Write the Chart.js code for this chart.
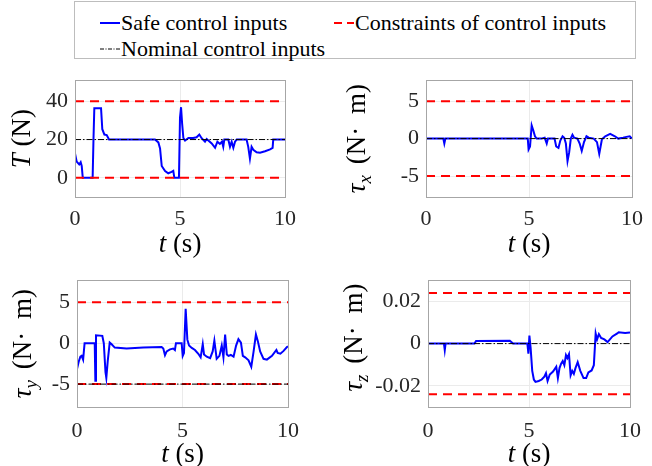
<!DOCTYPE html>
<html>
<head>
<meta charset="utf-8">
<script src="https://cdn.jsdelivr.net/npm/chart.js@4.4.1/dist/chart.umd.min.js"></script>
<style>
  body { margin: 0; width: 652px; height: 466px; background: #fff; position: relative; overflow: hidden; font-family: "Liberation Serif", serif; }
  canvas { position: absolute; }
  #legend { position: absolute; left: 74px; top: 1px; width: 562px; height: 58px; border: 1px solid #bdbdbd; box-sizing: border-box; background: #fff; }
  .sample { position: absolute; }
  .label { position: absolute; font-size: 22px; line-height: 22px; color: #000; white-space: nowrap; }
</style>
</head>
<body>
<div id="legend">
  <svg class="sample" style="left:25px;top:19px" width="20" height="4"><line x1="0" y1="2" x2="20" y2="2" stroke="#0000ff" stroke-width="2"/></svg>
  <div class="label" style="left:46px;top:10px">Safe control inputs</div>
  <svg class="sample" style="left:259px;top:19px" width="20" height="4"><line x1="0" y1="2" x2="20" y2="2" stroke="#ff0000" stroke-width="2" stroke-dasharray="8 5"/></svg>
  <div class="label" style="left:280px;top:10px">Constraints of control inputs</div>
  <svg class="sample" style="left:25px;top:45px" width="20" height="4"><line x1="0" y1="2" x2="20" y2="2" stroke="#000" stroke-width="1" stroke-dasharray="4 1.5 1 1.5"/></svg>
  <div class="label" style="left:46px;top:36px">Nominal control inputs</div>
</div>
<canvas id="cT" width="326" height="200" style="left:0;top:60px"></canvas>
<canvas id="cX" width="326" height="200" style="left:326px;top:60px"></canvas>
<canvas id="cY" width="326" height="206" style="left:0;top:260px"></canvas>
<canvas id="cZ" width="326" height="206" style="left:326px;top:260px"></canvas>
<script>
// time span shared by all panels
const tSpan = [0, 10];
const tTicks = [0, 5, 10];

// thrust T (N)
const tT = [0, 0.08, 0.2, 0.27, 0.32, 0.37, 0.84, 0.88, 0.92, 1.24, 1.30, 1.40, 1.51, 1.62, 3.81, 3.97, 4.05, 4.13, 4.29, 4.44,
  4.60, 4.68, 4.73, 4.95, 5.0, 5.05, 5.10, 5.16, 5.24, 5.40, 5.63, 5.79, 5.92, 6.03, 6.19, 6.27, 6.35, 6.51, 6.67, 6.78,
  6.90, 7.0, 7.06, 7.11, 7.30, 7.38, 7.46, 7.54, 7.62, 7.70, 8.17, 8.25, 8.33, 8.41, 8.49, 8.65, 8.81, 9.05, 9.29, 9.41,
  9.44, 10];
const safeT = [12.8, 8.5, 7.0, 8.2, 6.2, 0, 0, 20, 36.4, 36.4, 25.4, 22.6, 22.3, 20, 20, 18.5, 15.4, 6.2, 3.6, 2.4,
  3.1, 3.6, 0, 0, 31.5, 36.9, 28.5, 20.8, 19.5, 20.8, 20.8, 21.2, 22.6, 20.7, 18.9, 20.3, 19.5, 18.0, 15.7, 18.9,
  17.7, 18.9, 16.2, 20, 20, 16.2, 18.9, 15.7, 18.9, 20, 20, 16.2, 10.0, 16.2, 14.7, 13.4, 13.1, 13.9, 14.9, 15.7,
  20, 20];
const nomT = 20;
const limT = [0, 40];
const ticksT = [0, 20, 40];

// torque tau_x (N m)
const tX = [0, 0.84, 0.89, 0.94, 4.94, 4.98, 5.05, 5.13, 5.21, 5.29, 5.37, 5.60, 5.76, 5.86, 5.92, 6.24, 6.32, 6.43, 6.52, 6.63,
  6.71, 6.79, 6.87, 6.95, 7.03, 7.11, 7.19, 7.35, 7.46, 7.56, 7.67, 7.79, 7.90, 8.14, 8.30, 8.41, 8.54, 8.70, 8.94, 9.17,
  9.33, 9.57, 9.73, 9.89, 10];
const safeX = [0, 0, -0.66, 0, 0, -1.45, -1.05, 1.76, 1.09, 0.31, 0, 0, 0.12, -0.66, 0, 0, -1.05, -1.25, -0.27, 0.31,
  0.12, -0.66, -3.0, -1.84, 0, 0.51, 0.12, 0, -0.66, -1.64, -0.47, 0.31, 0.12, 0, -0.47, -2.03, -0.08, 0.31, 0.62, 0.31,
  0, 0.12, 0.23, 0.31, 0];
const nomX = 0;
const limX = [-5, 5];
const ticksX = [-5, 0, 5];

// torque tau_y (N m)
const tY = [0, 0.08, 0.16, 0.22, 0.29, 0.36, 0.84, 0.87, 0.90, 1.20, 1.27, 1.35, 1.39, 1.46, 1.55, 1.63, 1.79, 2.35, 3.14, 4.01,
  4.09, 4.17, 4.25, 4.41, 4.56, 4.64, 4.69, 4.96, 5.01, 5.07, 5.15, 5.23, 5.31, 5.44, 5.59, 5.75, 5.86, 5.96, 6.02, 6.15,
  6.31, 6.43, 6.51, 6.62, 6.75, 6.86, 6.94, 7.02, 7.10, 7.18, 7.29, 7.42, 7.54, 7.65, 7.77, 7.86, 7.97, 8.13, 8.26, 8.37,
  8.48, 8.57, 8.68, 8.84, 9.00, 9.24, 9.45, 9.51, 9.64, 9.79, 9.95, 10];
const safeY = [-3.17, -2.27, -1.65, -1.55, -2.01, 0, 0, -4.6, 0.97, 0.9, 0, -3.53, -4.24, -2.09, 0.07, -0.11, -0.54, -0.65, -0.54, -0.47,
  -0.65, -1.47, -1.0, -0.76, -0.65, -0.83, 0, 0, -1.55, -1.19, 4.21, 0.43, -0.29, -0.58, -0.83, -1.29, -1.73, -0.11, -1.37, -1.65,
  -1.83, -1.0, 0.32, -1.91, -1.55, -0.29, -1.73, 1.04, -1.37, -1.55, -1.44, -1.65, -0.29, 0.5, 0.07, -1.55, -1.73, -2.09, -2.88, -1.0,
  1.08, 0.25, -1.0, -1.91, -2.01, -1.55, -0.83, -1.19, -1.29, -0.94, -0.47, -0.4];
const nomY = -5;
const limY = [-5, 5];
const ticksY = [-5, 0, 5];

// torque tau_z (N m)
const tZ = [0, 0.79, 0.83, 0.87, 2.30, 2.38, 4.05, 4.21, 4.92, 4.97, 5.02, 5.08, 5.16, 5.24, 5.32, 5.48, 5.63, 5.76, 5.84, 5.92,
  6.03, 6.19, 6.35, 6.43, 6.51, 6.59, 6.67, 6.75, 6.83, 6.90, 6.98, 7.06, 7.14, 7.22, 7.30, 7.41, 7.54, 7.70, 7.83, 7.94,
  8.10, 8.21, 8.30, 8.37, 8.46, 8.57, 8.73, 8.89, 9.13, 9.37, 9.44, 9.76, 10];
const safeZ = [0, 0, -0.0031, 0, 0, 0.0012, 0.0014, 0, 0, -0.0048, 0.0038, -0.002, -0.0129, -0.017, -0.0181, -0.0177, -0.017, -0.0156, -0.014, -0.0177,
  -0.0146, -0.0132, -0.0109, -0.0163, -0.0116, -0.0095, -0.0082, -0.0102, -0.0054, -0.0068, -0.005, -0.015, -0.0129, -0.0143, -0.0116, -0.0088, -0.0129, -0.0163, -0.0163, -0.0136,
  -0.0127, -0.0102, 0.0048, 0.002, 0.0045, 0.0027, 0.002, 0.0007, 0.0034, 0.0048, 0.0054, 0.005, 0.0053];
const nomZ = 0;
const limZ = [-0.024, 0.024];
const ticksZ = [-0.02, 0, 0.02];

const tickFont = { family: "Liberation Serif", size: 22 };
const tickColor = "#262626";

const zip = (xs, ys) => xs.map((x, i) => ({ x, y: ys[i] }));
const flat = v => tSpan.map(x => ({ x, y: v }));

function fontStr(p) { return `${p.italic ? "italic " : ""}${p.size || 27}px "Liberation Serif"`; }

// draws a label made of parts (italic / subscript / gaps), optionally rotated
function drawParts(ctx, parts, cx, cy, rotate) {
  let total = 0;
  parts.forEach(p => {
    ctx.font = fontStr(p);
    p.w = (p.text ? ctx.measureText(p.text).width : 0) + (p.gap || 0);
    total += p.w;
  });
  ctx.save();
  ctx.translate(cx, cy);
  if (rotate) ctx.rotate(-Math.PI / 2);
  ctx.fillStyle = "#000";
  ctx.textAlign = "left";
  ctx.textBaseline = "alphabetic";
  let x = -total / 2;
  parts.forEach(p => {
    ctx.font = fontStr(p);
    if (p.text) ctx.fillText(p.text, x, 9 + (p.dy || 0));
    x += p.w;
  });
  ctx.restore();
}

const frame = {
  id: "frame",
  afterDatasetsDraw(chart) {
    const { ctx, chartArea: a } = chart;
    ctx.save();
    ctx.strokeStyle = "#a6a6a6";
    ctx.lineWidth = 1;
    ctx.strokeRect(Math.round(a.left) + 0.5, Math.round(a.top) + 0.5, Math.round(a.right - a.left), Math.round(a.bottom - a.top));
    ctx.restore();
  },
  afterDraw(chart, args, opts) {
    const { ctx, chartArea: a } = chart;
    drawParts(ctx, [{ text: "t", italic: true }, { text: " (s)" }], (a.left + a.right) / 2, a.bottom + opts.xDy, false);
    drawParts(ctx, opts.yParts, opts.yX, (a.top + a.bottom) / 2 + (opts.yDy || 0), true);
  }
};

function makeChart(id, c) {
  return new Chart(document.getElementById(id), {
    type: "line",
    data: {
      datasets: [
        { data: flat(c.nom), borderColor: "#000", borderWidth: 1, borderDash: [6, 2, 1.5, 2] },
        { data: flat(c.lim[1]), borderColor: "#ff0000", borderWidth: 2, borderDash: [9, 6] },
        { data: flat(c.lim[0]), borderColor: "#ff0000", borderWidth: 2, borderDash: [9, 6] },
        { data: zip(c.t, c.safe), borderColor: "#0000ff", borderWidth: 2 }
      ]
    },
    options: {
      responsive: false,
      animation: false,
      events: [],
      layout: { padding: c.pad },
      elements: { point: { radius: 0 }, line: { tension: 0, fill: false } },
      plugins: {
        legend: { display: false },
        tooltip: { enabled: false },
        frame: { xDy: c.xDy, yX: c.yX, yDy: c.yDy, yParts: c.yParts }
      },
      scales: {
        x: {
          type: "linear", min: tSpan[0], max: tSpan[1],
          afterFit: s => { s.height = c.xh; },
          afterBuildTicks: s => { s.ticks = tTicks.map(v => ({ value: v })); },
          ticks: { font: tickFont, color: tickColor, padding: c.xPad, maxRotation: 0 },
          grid: { color: "#ebebeb", drawTicks: false },
          border: { display: false }
        },
        y: {
          type: "linear", min: c.range[0], max: c.range[1],
          afterFit: s => { s.width = c.yw; },
          afterBuildTicks: s => { s.ticks = c.ticks.map(v => ({ value: v })); },
          ticks: { font: tickFont, color: tickColor, padding: 7, callback: v => String(v) },
          grid: { color: "#ebebeb", drawTicks: false },
          border: { display: false }
        }
      }
    },
    plugins: [frame]
  });
}

const tauParts = sub => [
  { text: "\u03c4", italic: true },
  { text: sub, italic: true, size: 19, dy: 6, gap: 4 },
  { text: " (N\u00b7", gap: 6 },
  { text: " m)" }
];

makeChart("cT", { t: tT, safe: safeT, nom: nomT, lim: limT, ticks: ticksT, range: [-10, 51],
  pad: { left: 0, top: 4, right: 41, bottom: 0 }, yw: 75, xh: 63, xPad: 9, xDy: 46, yX: 21,
  yParts: [{ text: "T", italic: true }, { text: " (N)" }] });
makeChart("cX", { t: tX, safe: safeX, nom: nomX, lim: limX, ticks: ticksX, range: [-7.8, 7.8],
  pad: { left: 0, top: 4, right: 16, bottom: 0 }, yw: 100, xh: 63, xPad: 9, xDy: 46, yX: 30,
  yParts: tauParts("x") });
makeChart("cY", { t: tY, safe: safeY, nom: nomY, lim: limY, ticks: ticksY, range: [-7.8, 7.7],
  pad: { left: 0, top: 3, right: 38, bottom: 0 }, yw: 77, xh: 59, xPad: 11, xDy: 46, yX: 22,
  yParts: tauParts("y") });
makeChart("cZ", { t: tZ, safe: safeZ, nom: nomZ, lim: limZ, ticks: ticksZ, range: [-0.03, 0.03],
  pad: { left: 0, top: 3, right: 14, bottom: 0 }, yw: 102, xh: 59, xPad: 11, xDy: 46, yX: 27, yDy: -6,
  yParts: tauParts("z") });
</script>
</body>
</html>
